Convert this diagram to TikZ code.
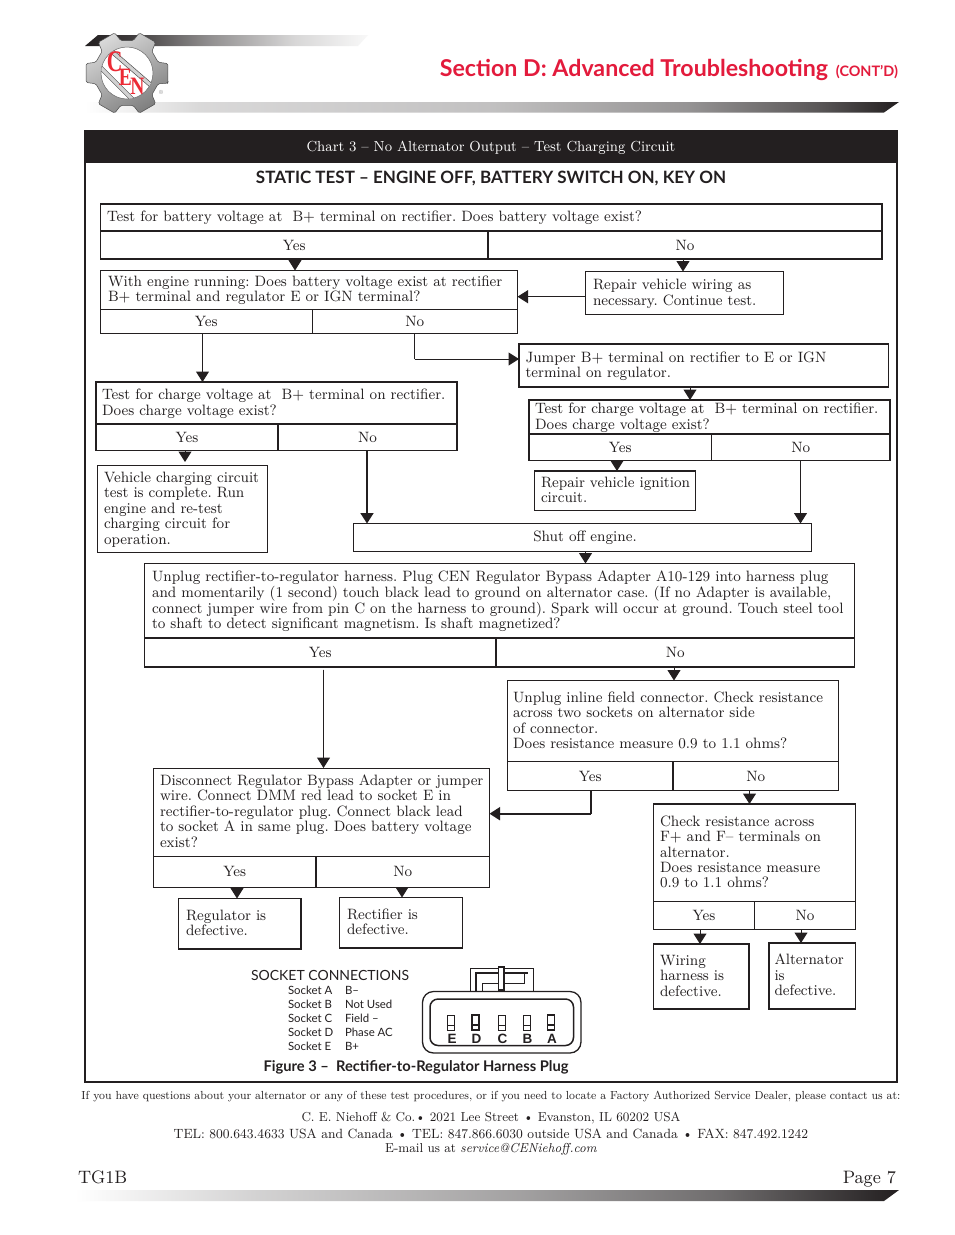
\documentclass[tikz,border=0pt]{standalone}
\usepackage{fontspec}
\usetikzlibrary{arrows.meta}
\setmainfont{lmroman8-regular.otf}[ItalicFont=lmroman8-italic.otf,BoldFont=lmroman8-bold.otf,FakeStretch=0.95]
\frenchspacing
\newfontfamily\lato{Lato}
\newfontfamily\helv{Liberation Sans}
\newfontfamily\logoserif{Liberation Serif}
\definecolor{ink}{HTML}{231F20}
\definecolor{cenred}{HTML}{E31B3C}
\definecolor{logored}{HTML}{EC2A35}
\pgfdeclarehorizontalshading{barTop}{100bp}{color(0bp)=(ink); color(25bp)=(ink); color(33bp)=(ink!88!white); color(47bp)=(ink!50!white); color(62bp)=(ink!18!white); color(75bp)=(ink!3!white); color(100bp)=(white)}
\pgfdeclarehorizontalshading{barMid}{100bp}{color(0bp)=(white); color(25bp)=(white); color(32bp)=(ink!17!white); color(50bp)=(ink!28!white); color(62bp)=(ink!48!white); color(70bp)=(ink!75!white); color(75bp)=(ink); color(100bp)=(ink)}
\pgfdeclarehorizontalshading{barFoot}{100bp}{color(0bp)=(white); color(25bp)=(white); color(36bp)=(ink!20!white); color(52bp)=(ink!42!white); color(64bp)=(ink!65!white); color(75bp)=(ink); color(100bp)=(ink)}
\newcommand\bodyfont{\frenchspacing\fontsize{15}{15.4}\selectfont}
\newcommand\flowbox[8]{% name x1 y1 x2 y2 xsep lw lines
  \pgfmathsetlengthmacro\flowW{(#4-#2)*1pt}%
  \pgfmathsetlengthmacro\flowH{(#5-#3)*1pt}%
  \node[flow,line width=#7pt,minimum width=\flowW,minimum height=\flowH] (#1) at (#2,#3)
    {\hbox to \flowW{\hspace{#6pt}\raisebox{-4.9pt}[0pt][0pt]{\begin{tabular}{@{}l@{}}#8\end{tabular}}\hss}};}
\newcommand\answer[6]{% name x1 y1 x2 y2 lw, text from next
  \pgfmathsetlengthmacro\flowW{(#4-#2)*1pt}%
  \pgfmathsetlengthmacro\flowH{(#5-#3)*1pt}%
  \node[flow,line width=#6pt,minimum width=\flowW,minimum height=\flowH] (#1) at (#2,#3)}
\newcommand\flowarr[3]{\draw[arw] (#1,0 |- #2) -- (#1,0 |- #3);}
\tikzset{
  flow/.style={draw=ink,anchor=north west,inner sep=0pt,outer sep=0pt,font=\bodyfont,text=ink,align=center},
  arw/.style={draw=ink,fill=ink,line width=1pt,-{Triangle[length=10.5pt,width=13pt]}},
  linkline/.style={draw=ink,line width=1pt},
  thickline/.style={draw=ink,line width=1.8pt},
  plain/.style={inner sep=0pt,outer sep=0pt,text=ink},
  logoletter/.style={plain,text=logored,transform shape},
}
\begin{document}
\begin{tikzpicture}[x=1pt,y=-1pt]
\useasboundingbox[fill=white] (0,0) rectangle (954,1235);
% ---- header bars
\shade[shading=barTop] (85,46) -- (98,35) -- (368,35) -- (358,46) -- cycle;
\shade[shading=barMid] (85,102) -- (899,102) -- (884,112.5) -- (85,112.5) -- cycle;
\shade[shading=barFoot] (75,1190) -- (899,1190) -- (884,1201) -- (75,1201) -- cycle;
% ---- logo
\begin{scope}[shift={(127,73)}]
 \shade[top color=black!15,bottom color=black!50,shading angle=30,draw=black!70,line width=.5pt,rounded corners=1.5pt]
   (-14:42pt) \foreach \a in {0,60,120,180,240,300}{ -- (\a-13:42pt) -- (\a+13:42pt) -- (\a+19:33pt) -- (\a+41:33pt)} -- cycle;
 \fill[white,draw=black!60,line width=.5pt] (0,0) circle[radius=26];
 \begin{scope}
  \clip (0,0) circle[radius=26];
  \foreach \xa/\ya/\xb/\yb in {-18/-24/26/14,-27/-6/7/28}{
  \draw[black!70,line width=4.5pt] (\xa,\ya) -- (\xb,\yb);
  \draw[black!18,line width=3.2pt] (\xa,\ya) -- (\xb,\yb);}
 \end{scope}
 \begin{scope}[xscale=.72]
 \node[logoletter,font={\logoserif\bfseries\fontsize{30}{30}\selectfont}] (logoC) at (-17,-11) {C};
 \end{scope}
 \begin{scope}[xscale=.78]
 \node[logoletter,font={\logoserif\bfseries\fontsize{25}{25}\selectfont}] (logoE) at (-2,4.5) {E};
 \node[logoletter,font={\logoserif\bfseries\fontsize{25}{25}\selectfont}] (logoN) at (13.5,13) {N};
 \end{scope}
 \node[plain,text=black!45,font=\fontsize{6}{6}\selectfont] (logoR) at (34,19) {®};
\end{scope}
\node[plain,anchor=base east,text=cenred,font={\lato\bfseries\fontsize{23.2}{23}\selectfont}] (title) at (828,76.5) {Section D: Advanced Troubleshooting};
\node[plain,anchor=base east,text=cenred,font={\lato\bfseries\fontsize{14.4}{13}\selectfont}] (cont) at (898,76.5) {(CONT’D)};
% ---- frame
\draw[ink,line width=2pt] (85,131) rectangle (897,1082);
\fill[ink] (84,130) rectangle (898,163);
\node[plain,text=white,font=\fontsize{14.6}{15}\selectfont] (charttitle) at (491,148) {Chart 3 – No Alternator Output – Test Charging Circuit};
\node[plain,font={\lato\bfseries\fontsize{17}{17}\selectfont}] (static) at (491,178) {STATIC TEST – ENGINE OFF, BATTERY SWITCH ON, KEY ON};
% ---- flow boxes
\flowbox{q1}{100.5}{204}{882}{231}{6.5}{1.7}{Test for battery voltage at\ \ B+ terminal on rectifier. Does battery voltage exist?}
\answer{q1y}{100.5}{231}{488}{259}{1.7} {Yes};
\answer{q1n}{488}{231}{882}{259}{1.7} {No};
\flowbox{q2}{100.5}{270.5}{517.5}{309}{7.5}{1}{With engine running: Does battery voltage exist at rectifier\\B+ terminal and regulator E or IGN terminal?}
\answer{q2y}{100.5}{309}{312}{333.5}{1} {Yes};
\answer{q2n}{312}{309}{517.5}{333.5}{1} {No};
\flowbox{rw}{585.5}{271.5}{783.5}{314.5}{7.5}{1.5}{Repair vehicle wiring as\\necessary. Continue test.}
\flowbox{jp}{519}{344}{888.5}{387}{6.5}{1.7}{Jumper B+ terminal on rectifier to E or IGN\\terminal on regulator.}
\flowbox{t2}{529}{400}{890}{434}{6}{1.5}{Test for charge voltage at\ \ B+ terminal on rectifier.\\Does charge voltage exist?}
\answer{t2y}{529}{434}{711.5}{460.5}{1.2} {Yes};
\answer{t2n}{711.5}{434}{890}{460.5}{1.2} {No};
\flowbox{t1}{96}{382}{457}{424}{6}{1.8}{Test for charge voltage at\ \ B+ terminal on rectifier.\\Does charge voltage exist?}
\answer{t1y}{96}{424}{278}{450.5}{1.8} {Yes};
\answer{t1n}{278}{424}{457}{450.5}{1.8} {No};
\flowbox{vc}{97.5}{465.5}{267.5}{552.5}{6.5}{1.3}{Vehicle charging circuit\\test is complete. Run\\engine and re-test\\charging circuit for\\operation.}
\flowbox{ri}{534.5}{471}{695.5}{510.5}{6.5}{1.2}{Repair vehicle ignition\\circuit.}
\answer{so}{353.5}{523.5}{811.5}{551.5}{1.1} {\hspace*{5pt}Shut off engine.};
\flowbox{up}{144.5}{563.5}{854.5}{638}{7.5}{1.5}{Unplug rectifier-to-regulator harness. Plug CEN Regulator Bypass Adapter A10-129 into harness plug\\and momentarily (1 second) touch black lead to ground on alternator case. (If no Adapter is available,\\connect jumper wire from pin C on the harness to ground). Spark will occur at ground. Touch steel tool\\to shaft to detect significant magnetism. Is shaft magnetized?}
\answer{upy}{144.5}{638}{496}{667}{1.7} {Yes};
\answer{upn}{496}{638}{854.5}{667}{1.7} {No};
\flowbox{il}{507.5}{680.5}{838.5}{761.5}{5.5}{1.3}{Unplug inline field connector. Check resistance\\across two sockets on alternator side\\of connector.\\Does resistance measure 0.9 to 1.1 ohms?}
\answer{ily}{507.5}{761.5}{673}{790.5}{1.5} {Yes};
\answer{iln}{673}{761.5}{838.5}{790.5}{1.5} {No};
\flowbox{dc}{153.5}{768}{489.5}{856}{6.5}{1}{Disconnect Regulator Bypass Adapter or jumper\\wire. Connect DMM red lead to socket E in\\rectifier-to-regulator plug. Connect black lead\\to socket A in same plug. Does battery voltage\\exist?}
\answer{dcy}{153.5}{856}{316}{887.5}{1} {Yes};
\answer{dcn}{316}{856}{489.5}{887.5}{1} {No};
\draw[thickline] (dcn.north west) -- (dcn.south west);
\flowbox{rg}{178.5}{898.5}{301}{949}{7.5}{1.7}{Regulator is\\defective.}
\flowbox{rc}{339.5}{897.5}{462.5}{948}{7.5}{1.7}{Rectifier is\\defective.}
\flowbox{ck}{653.5}{804}{855.5}{901.5}{6.5}{1.5}{Check resistance across\\F+ and F– terminals on\\alternator.\\Does resistance measure\\0.9 to 1.1 ohms?}
\answer{cky}{653.5}{901.5}{754.5}{929.5}{1.5} {Yes};
\answer{ckn}{754.5}{901.5}{855.5}{929.5}{1.5} {No};
\flowbox{wh}{653.5}{944}{749}{1009}{6.5}{1.5}{Wiring\\harness is\\defective.}
\flowbox{at}{769}{943}{855.5}{1009}{5.5}{1.8}{Alternator\\is\\defective.}
% ---- connectors
\flowarr{295}{q1y.south}{q2.north}
\flowarr{683}{q1n.south}{rw.north}
\draw[arw] (rw.west |- 0,296.7) -- (q2.east |- 0,296.7);
\flowarr{202.5}{q2y.south}{t1.north}
\draw[linkline] (414.5,0 |- q2n.south) -- (414.5,359);
\draw[arw] (414.5,359) -- (jp.west |- 0,359);
\flowarr{690}{jp.south}{t2.north}
\flowarr{617}{t2y.south}{ri.north}
\flowarr{800.5}{t2n.south}{so.north}
\draw[arw] (185,0 |- t1y.south) -- (185,462);
\draw[arw,line width=1.8pt] (367,0 |- t1n.south) -- (367,0 |- so.north);
\flowarr{585.5}{so.south}{up.north}
\draw[arw] (323.5,669.5) -- (323.5,0 |- dc.north);
\flowarr{674}{upn.south}{il.north}
\draw[thickline] (591,0 |- ily.south) -- (591,813.7);
\draw[arw,line width=1.8pt] (591,813.7) -- (dc.east |- 0,813.7);
\flowarr{749.5}{iln.south}{ck.north}
\flowarr{237}{dcy.south}{rg.north}
\flowarr{402}{dcn.south}{rc.north}
\flowarr{700}{cky.south}{wh.north}
\flowarr{801}{ckn.south}{at.north}
% ---- socket legend
\node[plain,anchor=base west,font={\lato\fontsize{14.0}{15}\selectfont}] (sc) at (251,980) {SOCKET CONNECTIONS};
\foreach \n/\yy/\aa/\bb in {a/994/Socket A/B–,b/1008/Socket B/Not Used,c/1022/Socket C/Field –,d/1036/Socket D/Phase AC,e/1050/Socket E/B+}{
 \node[plain,anchor=base west,font={\lato\fontsize{11.4}{12}\selectfont}] (s\n) at (288,\yy) {\aa};
 \node[plain,anchor=base west,font={\lato\fontsize{11.4}{12}\selectfont}] (v\n) at (345,\yy) {\bb};
}
\node[plain,anchor=base west,font={\lato\bfseries\fontsize{14.7}{15}\selectfont}] (fig) at (263.5,1071) {Figure 3 –\ \ Rectifier-to-Regulator Harness Plug};
% ---- plug
\begin{scope}[ink]
 \draw[line width=1pt] (470.5,991) -- (470.5,968) -- (533.5,968) -- (533.5,991);
 \draw[line width=1.5pt] (476,991) -- (476,973) -- (528,973);
 \draw[line width=1pt] (482,991) -- (482,983) -- (524,983) -- (524,973);
 \draw[fill=white,line width=1.8pt] (498.5,967) rectangle (504,990);
 \draw[line width=1.3pt,rounded corners=11pt] (422.5,991.5) rectangle (581,1053);
 \draw[line width=1.5pt,rounded corners=8pt] (430,999) rectangle (573.5,1045.5);
 \foreach \n/\xx/\lw in {E/451/.8,D/475.5/1.3,C/501.5/.8,B/526.5/.8,A/551/1.3}{
  \draw[line width=\lw pt] (\xx-3.5,1015) rectangle (\xx+3.5,1030);
  \draw[line width=\lw pt] (\xx-3.5,1025) -- (\xx+3.5,1025);
  \node[plain,font={\helv\bfseries\fontsize{13.5}{13}\selectfont}] (pin\n) at (\xx+1,1038.5) {\n};
 }
\end{scope}
% ---- footer
\node[plain,font=\fontsize{11.7}{12}\selectfont] (f1) at (491,1097) {If you have questions about your alternator or any of these test procedures, or if you need to locate a Factory Authorized Service Dealer, please contact us at:};
\node[plain,font=\fontsize{13}{13}\selectfont] (f2) at (491,1118.5) {C. E. Niehoff \& Co.• 2021 Lee Street • Evanston, IL 60202 USA};
\node[plain,font=\fontsize{13.4}{13}\selectfont] (f3) at (491,1133.5) {TEL: 800.643.4633 USA and Canada • TEL: 847.866.6030 outside USA and Canada • FAX: 847.492.1242};
\node[plain,font=\fontsize{13}{13}\selectfont] (f4) at (491,1149.5) {E-mail us at \textit{service@CENiehoff.com}};
\node[plain,anchor=base west,font=\fontsize{18}{18}\selectfont] (tg) at (78,1183) {TG1B};
\node[plain,anchor=base east,font=\fontsize{18}{18}\selectfont] (pg) at (896,1183) {Page 7};
\end{tikzpicture}
\end{document}
